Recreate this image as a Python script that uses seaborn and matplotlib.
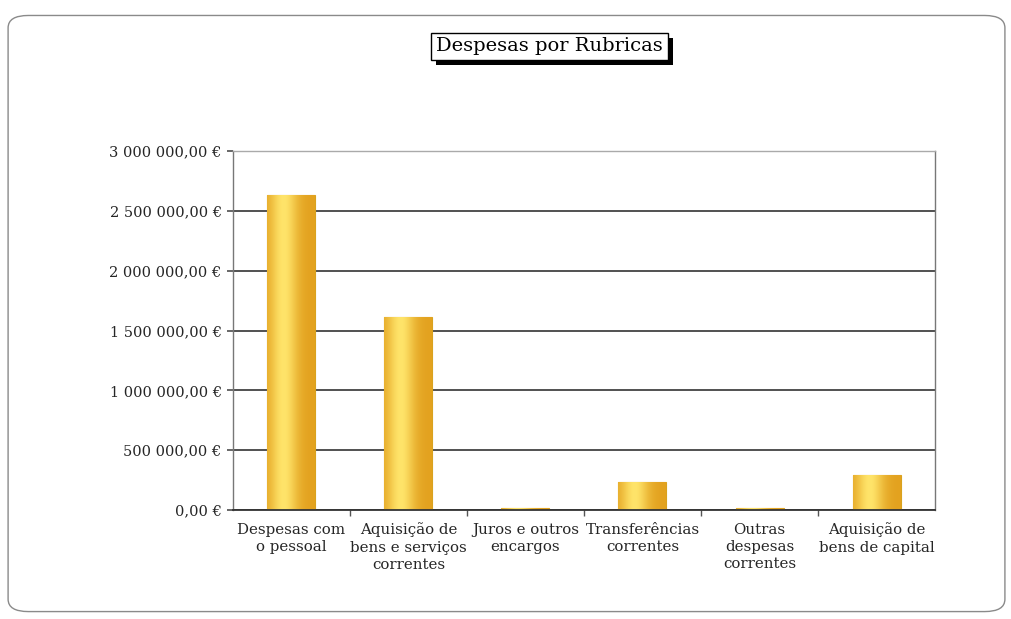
import numpy as np
import pandas as pd
import seaborn as sns
import matplotlib.pyplot as plt
from matplotlib.patches import FancyBboxPatch, Rectangle
from matplotlib.ticker import FuncFormatter, FixedLocator

# chart data
categories = [
    "Despesas com\no pessoal",
    "Aquisição de\nbens e serviços\ncorrentes",
    "Juros e outros\nencargos",
    "Transferências\ncorrentes",
    "Outras\ndespesas\ncorrentes",
    "Aquisição de\nbens de capital",
]
values = [2630000, 1610000, 20000, 235000, 14000, 290000]
y_ticks = [0, 500000, 1000000, 1500000, 2000000, 2500000, 3000000]
title = "Despesas por Rubricas"

df = pd.DataFrame({"rubrica": categories, "valor": values})

sns.set_theme(style="white")
plt.rcParams['font.family'] = ['DejaVu Serif']

fig = plt.figure(figsize=(10.12, 6.19), dpi=100)
ax = fig.add_axes([0.230, 0.176, 0.694, 0.580])

sns.barplot(data=df, x="rubrica", y="valor", color="#F7C23A", width=0.41,
            edgecolor="#D9A21E", linewidth=0.8, saturation=1, ax=ax)

# cylinder-like shading on each bar
grad = np.linspace(0, 1, 256)
shade = np.exp(-((grad - 0.35) ** 2) / 0.08)
cmap = plt.matplotlib.colors.LinearSegmentedColormap.from_list(
    "gold", ["#E3A21F", "#FFE46A"])
for bar in ax.patches:
    x0, y0 = bar.get_x(), bar.get_y()
    w, h = bar.get_width(), bar.get_height()
    im = ax.imshow(shade[np.newaxis, :], extent=[x0, x0 + w, y0, y0 + h],
                   aspect="auto", cmap=cmap, zorder=bar.get_zorder() + 0.1)
    im.set_clip_path(bar)

ax.set_ylim(0, 3000000)
ax.set_xlim(-0.5, len(categories) - 0.5)
ax.set_yticks(y_ticks)
ax.yaxis.set_major_formatter(FuncFormatter(
    lambda v, p: f"{v:,.2f} €".replace(",", " ").replace(".", ",")))
ax.yaxis.grid(True, color="#222222", linewidth=1.1)
ax.set_axisbelow(True)

ax.set_xlabel("")
ax.set_ylabel("")
ax.tick_params(axis="y", labelsize=10.5, length=4, color="#555555", left=True, pad=4)
ax.tick_params(axis="x", labelsize=10.8, length=0, pad=9)
ax.xaxis.set_minor_locator(FixedLocator(np.arange(0.5, len(categories) - 0.5, 1)))
ax.tick_params(axis="x", which="minor", length=4, color="#555555", bottom=True)
for lab in ax.get_xticklabels():
    lab.set_linespacing(1.3)

for side in ["left", "bottom", "right", "top"]:
    ax.spines[side].set_visible(True)
    ax.spines[side].set_color("#777777")
    ax.spines[side].set_linewidth(1.0)
ax.spines["top"].set_color("#aaaaaa")
ax.spines["bottom"].set_color("#333333")
ax.spines["bottom"].set_linewidth(1.3)

# rounded outer frame of the chart area
frame = FancyBboxPatch((0.008, 0.012), 0.985, 0.963, transform=fig.transFigure,
                       boxstyle="round,pad=0,rounding_size=0.02",
                       facecolor="none", edgecolor="#8a8a8a", linewidth=1.0)
fig.patches.append(frame)

# title in a box with a drop shadow
t = fig.text(0.543, 0.925, title, fontsize=14, ha="center", va="center",
             color="black", zorder=5,
             bbox=dict(boxstyle="square,pad=0.25", facecolor="white",
                       edgecolor="black", linewidth=1.0))
fig.canvas.draw()
bb = t.get_bbox_patch().get_window_extent().transformed(fig.transFigure.inverted())
off_x, off_y = 5 / 1012, -5 / 619
fig.patches.append(Rectangle((bb.x0 + off_x, bb.y0 + off_y), bb.width, bb.height,
                             transform=fig.transFigure, facecolor="black",
                             edgecolor="none", zorder=1))

fig.savefig("out.png", dpi=100)
